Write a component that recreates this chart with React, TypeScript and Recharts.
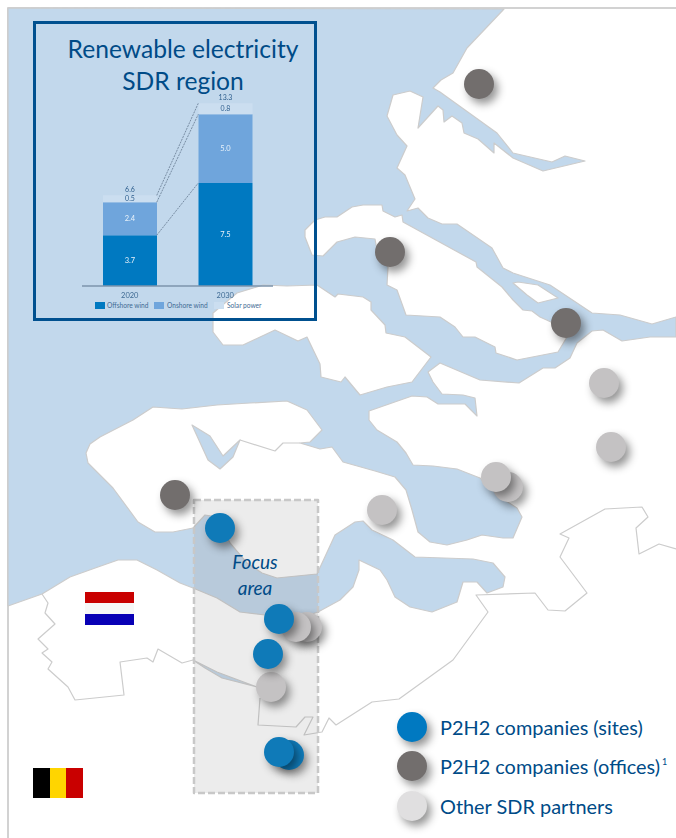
import {
  Bar,
  BarChart,
  LabelList,
  ReferenceLine,
  Scatter,
  ScatterChart,
  XAxis,
  YAxis,
} from "recharts";

type Pt = [number, number];

const NAVY = "#004b87";
const SHORE = "#cccccc";
const FONT = "Lato, sans-serif";

// inset chart values
const years = ["2020", "2030"];
const offshoreWind = [3.7, 7.5];
const onshoreWind = [2.4, 5.0];
const solarPower = [0.5, 0.8];
const totals = [6.6, 13.3];

const barRows = years.map((year, i) => ({
  year,
  offshore: offshoreWind[i],
  onshore: onshoreWind[i],
  solar: solarPower[i],
  total: totals[i],
}));

const insetLegend = [
  { label: "Offshore wind", color: "#0079c1", left: 95, textLeft: 107 },
  { label: "Onshore wind", color: "#6fa5dc", left: 154, textLeft: 167 },
  { label: "Solar power", color: "#cbdef0", left: 214, textLeft: 227 },
];

// map outlines, in map units
const water: Pt[] = [
  [8, 8], [504, 9], [486, 28], [467, 48], [453, 73], [441, 80], [433, 88], [440, 92], [497, 133], [513, 153],
  [552, 162], [565, 156], [585, 161], [543, 171], [513, 158], [494, 143], [494, 153], [478, 139], [464, 133],
  [462, 123], [452, 116], [444, 122], [443, 110], [438, 106], [418, 128], [423, 97], [410, 91], [393, 95],
  [387, 116], [397, 135], [407, 146], [397, 168], [405, 175], [415, 199], [407, 211], [418, 208], [428, 218],
  [442, 224], [457, 224], [492, 248], [503, 268], [513, 273], [550, 285], [592, 313], [620, 315], [652, 324],
  [676, 317], [676, 337], [650, 337], [622, 341], [603, 330], [592, 331], [577, 343], [570, 358], [555, 368],
  [543, 368], [519, 383], [480, 380], [440, 363], [428, 372], [433, 382], [442, 394], [463, 395], [475, 398],
  [477, 416], [465, 404], [438, 404], [427, 397], [412, 396], [369, 411], [369, 420], [377, 430], [397, 442],
  [406, 453], [413, 465], [433, 466], [457, 469], [480, 478], [500, 497], [517, 508], [522, 517], [513, 538],
  [503, 538], [482, 535], [467, 540], [447, 545], [430, 542], [418, 532], [412, 510], [406, 490], [395, 477],
  [375, 471], [343, 462], [332, 447], [320, 449], [300, 443], [310, 442], [322, 430], [307, 410], [287, 401],
  [250, 403], [217, 405], [182, 409], [153, 407], [133, 420], [100, 437], [90, 444], [86, 453], [88, 463],
  [113, 488], [138, 522], [155, 532], [173, 532], [193, 528], [205, 515], [217, 517], [230, 543], [247, 563],
  [262, 573], [277, 578], [317, 574], [335, 535], [355, 522], [363, 521], [372, 530], [393, 540], [415, 557],
  [473, 559], [493, 563], [505, 577], [503, 587], [487, 593], [477, 582], [463, 582], [457, 602], [432, 612],
  [410, 607], [395, 597], [387, 580], [380, 570], [359, 560], [359, 570], [353, 587], [340, 600], [318, 612],
  [300, 618], [265, 615], [240, 612], [217, 598], [193, 588], [180, 583], [157, 570], [137, 560], [118, 560],
  [98, 567], [70, 577], [42, 594], [8, 606],
];
const goeree: Pt[] = [
  [305, 230], [315, 220], [325, 217], [337, 217], [352, 207], [363, 205], [382, 205], [383, 211], [395, 217],
  [402, 215], [403, 222], [476, 262], [477, 267], [502, 287], [513, 300], [523, 310], [532, 311], [540, 317],
  [551, 322], [567, 337], [558, 352], [517, 360], [496, 353], [495, 347], [475, 337], [463, 337], [455, 327],
  [440, 317], [406, 315], [397, 290], [387, 285], [388, 267], [377, 250], [375, 239], [355, 237], [337, 242],
  [323, 256], [312, 255], [305, 237],
];
const schouwen: Pt[] = [
  [213, 320], [213, 313], [237, 293], [263, 285], [287, 286], [317, 285], [335, 297], [338, 294], [363, 297],
  [371, 302], [371, 310], [385, 325], [386, 333], [405, 337], [431, 357], [412, 382], [387, 387], [360, 395],
  [345, 377], [341, 382], [321, 377], [320, 364], [307, 337], [298, 341], [275, 330], [243, 345], [223, 345],
  [213, 332],
];
const sliverIsland: Pt[] = [[513, 283], [518, 282], [538, 285], [558, 298], [538, 303], [527, 295]];
const veerseLake: Pt[] = [[192, 425], [210, 436], [223, 456], [240, 440], [233, 457], [220, 469], [208, 460]];
const canal: Pt[] = [[193, 660], [217, 672], [257, 687], [222, 678], [205, 668]];

const damLine: Pt[] = [[240, 440], [275, 451], [283, 443], [300, 443]];
const borderWest: Pt[] = [
  [42, 594], [48, 603], [45, 613], [55, 624], [38, 639], [48, 649], [42, 653], [52, 662], [48, 669], [68, 687],
  [75, 700], [124, 695], [120, 662], [147, 658], [153, 662], [158, 649], [182, 663], [193, 660],
];
const borderEast: Pt[] = [
  [260, 698], [258, 725], [296, 727], [305, 717], [313, 717], [304, 735], [322, 732], [329, 718], [336, 725],
  [372, 702], [399, 699], [453, 660], [488, 612], [476, 595], [535, 593], [548, 610], [565, 611], [587, 593],
  [560, 557], [569, 538], [560, 534], [605, 509], [642, 507], [648, 517], [636, 528], [639, 554], [659, 544],
  [676, 549],
];
const frame: Pt[] = [[676, 8], [8, 8], [8, 838]];

const focusArea: Pt[] = [[194, 500], [318, 500], [318, 793], [194, 793]];

const flagNlRed: Pt[] = [[85, 592], [134, 592], [134, 603], [85, 603]];
const flagNlWhite: Pt[] = [[85, 603], [134, 603], [134, 614], [85, 614]];
const flagNlBlue: Pt[] = [[85, 614], [134, 614], [134, 625], [85, 625]];
const flagBeBlack: Pt[] = [[33, 768], [50, 768], [50, 798], [33, 798]];
const flagBeYellow: Pt[] = [[50, 768], [66, 768], [66, 798], [50, 798]];
const flagBeRed: Pt[] = [[66, 768], [83, 768], [83, 798], [66, 798]];

// partner locations
const partners: Pt[] = [[604, 383], [611, 447], [508, 487], [496, 477], [382, 510], [307, 627], [296, 627], [271, 687]];
const offices: Pt[] = [[479, 84], [390, 252], [566, 323], [175, 495]];
const sites: Pt[] = [[220, 528], [279, 619], [268, 654], [289, 755], [279, 752]];

const legendRows = [
  { label: "P2H2 companies (sites)", color: "#0079c1", mark: [412, 727] as Pt, baseline: 735 },
  { label: "P2H2 companies (offices)", color: "#726e6d", mark: [412, 766] as Pt, baseline: 774 },
  { label: "Other SDR partners", color: "#e0dfe0", mark: [412, 806] as Pt, baseline: 814 },
];

const toRows = (pts: Pt[]) => pts.map(([x, y]) => ({ x, y }));
const noMark = () => <g />;

const ptsAttr = (points: { x: number; y: number }[]) => points.map((p) => `${p.x},${p.y}`).join(" ");

const regionSeries = (
  key: string,
  pts: Pt[],
  fill: string,
  stroke = "none",
  width = 1.2,
  dash?: string,
  open = false,
) => (
  <Scatter
    key={key}
    data={toRows(pts)}
    shape={noMark}
    isAnimationActive={false}
    line={(p: any) => {
      const Tag: any = open ? "polyline" : "polygon";
      return (
        <Tag
          points={ptsAttr(p.points)}
          fill={open ? "none" : fill}
          stroke={stroke}
          strokeWidth={width}
          strokeDasharray={dash}
          strokeLinejoin="round"
        />
      );
    }}
  />
);

const dot = (color: string) => (p: any) => (
  <circle
    cx={p.cx}
    cy={p.cy}
    r={15}
    fill={color}
    style={{ filter: "drop-shadow(4px 5px 4px rgba(0,0,0,0.42))" }}
  />
);

const MapChart = () => (
  <ScatterChart width={676} height={838} margin={{ top: 0, right: 0, bottom: 0, left: 0 }}>
    <XAxis type="number" dataKey="x" domain={[0, 676]} hide allowDataOverflow />
    <YAxis type="number" dataKey="y" domain={[0, 838]} reversed hide allowDataOverflow />
    {regionSeries("frame", frame, "none", "#d2d2d2", 2, undefined, true)}
    {regionSeries("water", water, "#c2d8ec", SHORE)}
    {regionSeries("goeree", goeree, "#ffffff", SHORE)}
    {regionSeries("schouwen", schouwen, "#ffffff", SHORE)}
    {regionSeries("sliver", sliverIsland, "#ffffff", SHORE)}
    {regionSeries("veerse", veerseLake, "#c2d8ec", SHORE)}
    {regionSeries("canal", canal, "#c2d8ec", SHORE)}
    {regionSeries("dam", damLine, "none", SHORE, 1.2, undefined, true)}
    {regionSeries("borderWest", borderWest, "none", SHORE, 1.2, undefined, true)}
    {regionSeries("borderEast", borderEast, "none", SHORE, 1.2, undefined, true)}
    {regionSeries("focus", focusArea, "rgba(128,128,128,0.15)", "#c8c8c8", 2.5, "7 3")}
    {regionSeries("nl1", flagNlRed, "#c90000")}
    {regionSeries("nl2", flagNlWhite, "#f7f7f7")}
    {regionSeries("nl3", flagNlBlue, "#0800b5")}
    {regionSeries("be1", flagBeBlack, "#000000")}
    {regionSeries("be2", flagBeYellow, "#ffd500")}
    {regionSeries("be3", flagBeRed, "#c90000")}
    <Scatter data={toRows(partners)} shape={dot("#c4c2c3")} isAnimationActive={false} />
    <Scatter data={toRows(offices)} shape={dot("#726e6d")} isAnimationActive={false} />
    <Scatter data={toRows(sites)} shape={dot("#0f7ab8")} isAnimationActive={false} />
    {legendRows.map((row) => (
      <Scatter key={row.label} data={toRows([row.mark])} shape={dot(row.color)} isAnimationActive={false} />
    ))}
  </ScatterChart>
);

const trimmedLine = (p: any) => {
  // runs from the right edge of one bar to the left edge of the next, half a bar in from the band centres
  const half = 27;
  return (
    <line
      x1={p.x1 + half}
      y1={p.y1}
      x2={p.x2 - half}
      y2={p.y2}
      stroke="#64798f"
      strokeWidth={0.8}
      strokeDasharray="2 1"
    />
  );
};

const connector = (key: string, from: number, to: number) => (
  <ReferenceLine
    key={key}
    segment={[
      { x: years[0], y: from },
      { x: years[1], y: to },
    ]}
    shape={trimmedLine}
  />
);

const oneDecimal = (v: any) => Number(v).toFixed(1);

const InsetChart = () => (
  <BarChart
    width={283}
    height={299}
    data={barRows}
    margin={{ top: 59, right: 43, bottom: 14, left: 49 }}
    barSize={54}
  >
    <XAxis
      dataKey="year"
      height={20}
      tickLine={false}
      tickMargin={1}
      axisLine={{ stroke: "#7d95ac", strokeWidth: 1.5 }}
      tick={{ fontSize: 7.5, fill: "#3f6b94", fontFamily: FONT }}
    />
    <YAxis type="number" domain={[0, 15]} hide />
    <Bar dataKey="offshore" stackId="a" fill="#0079c1" isAnimationActive={false}>
      <LabelList dataKey="offshore" position="center" formatter={oneDecimal} fill="#e8f2fa" fontSize={7.5} fontFamily={FONT} />
    </Bar>
    <Bar dataKey="onshore" stackId="a" fill="#6fa5dc" isAnimationActive={false}>
      <LabelList dataKey="onshore" position="center" formatter={oneDecimal} fill="#e8f2fa" fontSize={7.5} fontFamily={FONT} />
    </Bar>
    <Bar dataKey="solar" stackId="a" fill="#cbdef0" isAnimationActive={false}>
      <LabelList dataKey="solar" position="center" formatter={oneDecimal} fill="#2f5f8e" fontSize={7} fontFamily={FONT} />
      <LabelList dataKey="total" position="top" formatter={oneDecimal} fill="#2f5f8e" fontSize={7} fontFamily={FONT} offset={3} />
    </Bar>
    {connector("offshoreLink", offshoreWind[0], offshoreWind[1])}
    {connector("onshoreLink", offshoreWind[0] + onshoreWind[0], offshoreWind[1] + onshoreWind[1])}
    {connector("solarLink", totals[0], totals[1])}
  </BarChart>
);

export default function App() {
  return (
    <div style={{ position: "absolute", left: 0, top: 0, width: 676, height: 838, overflow: "hidden", background: "#fff" }}>
      <MapChart />
      <div style={{ position: "absolute", left: 33, top: 21, filter: "blur(0.3px)" }}>
        <InsetChart />
      </div>
      {insetLegend.map((item) => (
        <div key={item.label}>
          <div style={{ position: "absolute", left: item.left, top: 302, width: 10, height: 7, background: item.color }} />
          <div style={{ position: "absolute", left: item.textLeft, top: 300, fontSize: 6.6, lineHeight: "11px", color: "#3f6b94", fontFamily: FONT }}>
            {item.label}
          </div>
        </div>
      ))}
      <svg width={676} height={838} style={{ position: "absolute", left: 0, top: 0, pointerEvents: "none" }}>
        <rect x={34.5} y={22.5} width={281} height={297} fill="none" stroke="#00508f" strokeWidth={3} />
        <g fontFamily={FONT} fill={NAVY}>
          <text x={183} y={58} textAnchor="middle" fontSize={24.6}>Renewable electricity</text>
          <text x={183} y={90} textAnchor="middle" fontSize={24.6}>SDR region</text>
          <text x={255} y={569} textAnchor="middle" fontSize={19} fontStyle="italic">Focus</text>
          <text x={255} y={595} textAnchor="middle" fontSize={19} fontStyle="italic">area</text>
          {legendRows.map((row) => (
            <text key={row.label} x={440} y={row.baseline} fontSize={19.9}>{row.label}</text>
          ))}
          <text x={662} y={765} fontSize={9}>1</text>
        </g>
      </svg>
    </div>
  );
}
